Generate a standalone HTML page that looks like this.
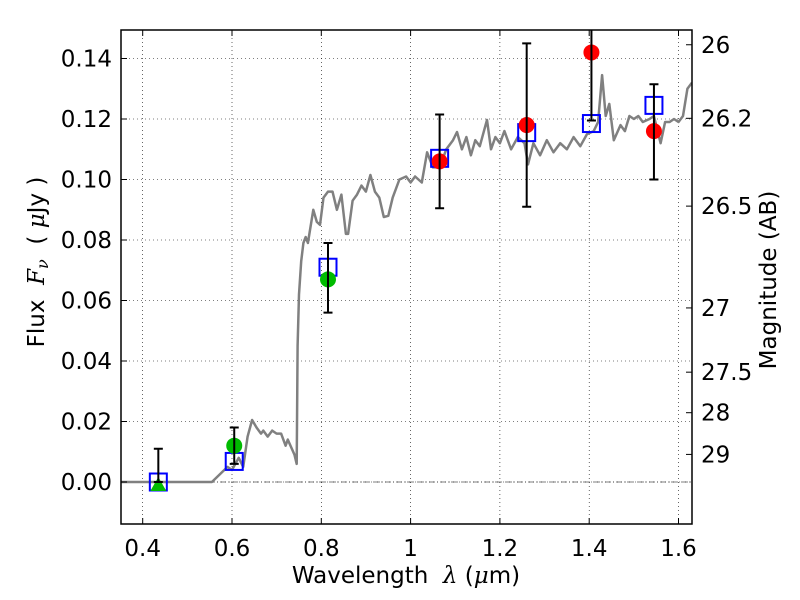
<!DOCTYPE html>
<html><head><meta charset="utf-8"><style>
body{margin:0;background:#fff}
svg{display:block}
text{font-family:"DejaVu Sans","Liberation Sans",sans-serif;fill:#000;white-space:pre}
</style></head><body>
<svg id="chart" width="800" height="600" viewBox="0 0 800 600" xmlns="http://www.w3.org/2000/svg"></svg>
<script>
const xTicks=[0.4,0.6,0.8,1.0,1.2,1.4,1.6];
const xTickLabels=["0.4","0.6","0.8","1","1.2","1.4","1.6"];
const yTicks=[0,0.02,0.04,0.06,0.08,0.10,0.12,0.14];
const yTickLabels=["0.00","0.02","0.04","0.06","0.08","0.10","0.12","0.14"];
const magTicks=[26,26.2,26.5,27,27.5,28,29];
const magTickLabels=["26","26.2","26.5","27","27.5","28","29"];
const specWave=[0.35,0.555,0.59,0.60,0.615,0.625,0.635,0.645,0.655,0.665,0.67,0.68,0.69,0.70,0.71,0.72,0.725,0.74,0.745,0.747,0.75,0.755,0.76,0.765,0.77,0.782,0.79,0.797,0.805,0.815,0.825,0.835,0.845,0.855,0.86,0.87,0.88,0.89,0.90,0.91,0.92,0.93,0.94,0.95,0.96,0.975,0.99,1.00,1.01,1.025,1.037,1.05,1.065,1.08,1.095,1.104,1.115,1.125,1.135,1.145,1.155,1.171,1.18,1.19,1.2,1.21,1.225,1.24,1.255,1.263,1.275,1.29,1.305,1.32,1.335,1.35,1.365,1.38,1.395,1.41,1.42,1.429,1.437,1.445,1.455,1.47,1.48,1.49,1.5,1.51,1.52,1.535,1.545,1.56,1.57,1.58,1.59,1.6,1.61,1.62,1.63];
const specFlux=[0,0,0.005,0.004,0.008,0.005,0.015,0.0205,0.018,0.016,0.017,0.015,0.017,0.016,0.016,0.012,0.014,0.009,0.006,0.045,0.062,0.073,0.079,0.081,0.079,0.090,0.086,0.085,0.094,0.096,0.096,0.090,0.095,0.082,0.082,0.093,0.095,0.098,0.096,0.1015,0.096,0.094,0.0876,0.088,0.094,0.100,0.101,0.099,0.101,0.099,0.109,0.104,0.104,0.110,0.113,0.1157,0.110,0.114,0.108,0.113,0.111,0.1197,0.110,0.114,0.112,0.116,0.110,0.114,0.112,0.105,0.112,0.108,0.113,0.109,0.112,0.110,0.114,0.111,0.115,0.116,0.119,0.1345,0.121,0.125,0.113,0.118,0.116,0.121,0.120,0.121,0.119,0.120,0.121,0.112,0.119,0.119,0.120,0.119,0.121,0.130,0.132];
const photWave=[0.435,0.605,0.815,1.065,1.26,1.405,1.545];
const modelFlux=[0.0,0.0068,0.071,0.107,0.1155,0.1185,0.1245];
const obsFlux=[-0.001,0.012,0.067,0.106,0.118,0.142,0.116];
const errLow=[0.0,0.006,0.056,0.0905,0.091,0.1195,0.100];
const errHigh=[0.011,0.018,0.079,0.1215,0.145,0.17,0.1315];
const obsKind=["triangle","green","green","red","red","red","red"];

const NS="http://www.w3.org/2000/svg";
const svg=document.getElementById('chart');
const L=121,R=692,T=30,B=524;
const FS=23;
const X=v=>142.7+(v-0.4)*446.5;
const Y=v=>482-v*3025;
function el(tag,attrs,parent){const e=document.createElementNS(NS,tag);for(const k in attrs)e.setAttribute(k,attrs[k]);(parent||svg).appendChild(e);return e;}
const defs=el('defs',{});const cp=el('clipPath',{id:'clip'},defs);el('rect',{x:L,y:T,width:R-L,height:B-T},cp);

xTicks.forEach(v=>{const g=el('line',{x1:X(v),x2:X(v),y1:T,y2:B,stroke:'#000','stroke-width':0.6,'stroke-dasharray':'1,3'});

});
yTicks.forEach(v=>{const g=el('line',{x1:L,x2:R,y1:Y(v),y2:Y(v),stroke:'#000','stroke-width':0.6,'stroke-dasharray':'1,3'});

});
const zl=el('line',{x1:L,x2:R,y1:Y(0),y2:Y(0),stroke:'#000','stroke-width':0.6,'stroke-dasharray':'6,2,1,2'});



const pg=el('g',{'clip-path':'url(#clip)'});
let d='';specWave.forEach((w,i)=>{d+=(i?'L':'M')+X(w).toFixed(1)+','+Y(specFlux[i]).toFixed(1);});
const sp=el('path',{d:d,fill:'none',stroke:'#808080','stroke-width':2.5,'stroke-linejoin':'round'},pg);



photWave.forEach((w,i)=>{
  const sq=el('rect',{x:X(w)-8.5,y:Y(modelFlux[i])-8.5,width:17,height:17,fill:'none',stroke:'#0000ff','stroke-width':2},pg);
  
  
});
photWave.forEach((w,i)=>{
  const x=X(w);let m;
  if(obsKind[i]==='triangle'){const y=Y(obsFlux[i]);m=el('polygon',{points:`${x},${y-8} ${x-8},${y+6} ${x+8},${y+6}`,fill:'#00bb00'},pg);}
  else m=el('circle',{cx:x,cy:Y(obsFlux[i]),r:8,fill:obsKind[i]==='green'?'#00bb00':'#ff0000'},pg);
  
  
  const e=el('path',{d:`M${x},${Y(errLow[i])}V${Y(errHigh[i])}M${x-4.5},${Y(errLow[i])}h9M${x-4.5},${Y(errHigh[i])}h9`,stroke:'#000','stroke-width':2,fill:'none'},pg);
  
  
});

const fr=el('rect',{x:L,y:T,width:R-L,height:B-T,fill:'none',stroke:'#000','stroke-width':1.5});



xTicks.forEach((v,i)=>{const x=X(v);
  el('line',{x1:x,x2:x,y1:B,y2:B-6,stroke:'#000'});el('line',{x1:x,x2:x,y1:T,y2:T+6,stroke:'#000'});
  const t=el('text',{x:x,y:B+32,'font-size':FS,'text-anchor':'middle'});t.textContent=xTickLabels[i];
  
  });
yTicks.forEach((v,i)=>{const y=Y(v);
  el('line',{x1:L,x2:L+6,y1:y,y2:y,stroke:'#000'});
  const t=el('text',{x:112,y:y+8,'font-size':FS,'text-anchor':'end'});t.textContent=yTickLabels[i];
  
  });
magTicks.forEach((m,i)=>{const y=Y(Math.pow(10,(23.9-m)/2.5));
  el('line',{x1:R,x2:R-6,y1:y,y2:y,stroke:'#000'});
  const t=el('text',{x:701,y:y+8,'font-size':FS});t.textContent=magTickLabels[i];
  
  });

const xl=el('text',{x:406,y:583,'font-size':FS,'text-anchor':'middle'});
xl.innerHTML='Wavelength  <tspan font-family="DejaVu Serif" font-style="italic">λ</tspan> (<tspan font-family="DejaVu Serif" font-style="italic">μ</tspan>m)';


const yl=el('text',{x:0,y:0,'font-size':FS,'text-anchor':'middle',transform:'translate(44,262) rotate(-90)'});
yl.innerHTML='Flux  <tspan font-family="DejaVu Serif" font-style="italic">F</tspan><tspan font-family="DejaVu Serif" font-style="italic" font-size="16" dy="4">ν</tspan><tspan dy="-4">  ( </tspan><tspan font-family="DejaVu Serif" font-style="italic">μ</tspan>Jy )';


const rl=el('text',{x:0,y:0,'font-size':FS,'text-anchor':'middle',transform:'translate(776,280) rotate(-90)'});
rl.textContent='Magnitude (AB)';


</script>
</body></html>
